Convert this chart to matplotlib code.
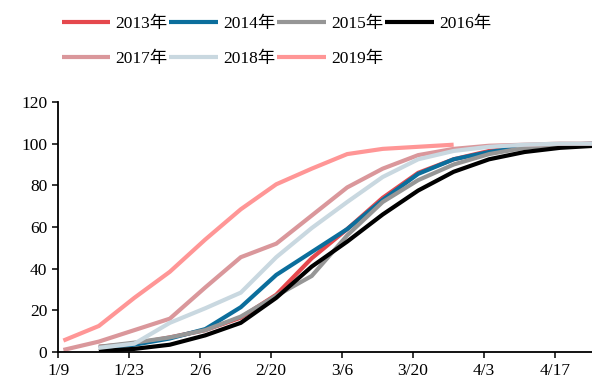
import numpy as np
import pandas as pd
import matplotlib
matplotlib.use("Agg")
import matplotlib.pyplot as plt

plt.rcParams['font.family'] = ['Liberation Serif', 'Noto Sans CJK SC']

# weekly observation dates (month/day)
dates = ['1/10', '1/17', '1/24', '1/31', '2/7', '2/14', '2/21', '2/28',
         '3/7', '3/14', '3/21', '3/28', '4/4', '4/11', '4/18', '4/25']

nan = np.nan
y2013 = [nan, 2.5, 4, 7, 10.5, 16.5, 27.5, 45, 59, 74, 86, 92.5, 96.5, 98.5, 99.5, 100]
y2014 = [nan, 2, 3.5, 6.5, 11, 21.5, 37, 48, 59, 73, 85.5, 92.5, 96, 98.5, 99.5, 100]
y2015 = [nan, 2.5, 4.5, 7, 10.5, 17, 27, 36.5, 56, 72, 82.5, 90, 95, 98, 99.5, 100]
y2016 = [nan, 0.5, 1.5, 3.5, 8, 14, 26, 41, 53, 66, 77.5, 86.5, 92.5, 96, 98, 99]
y2017 = [1, 5, 10.5, 16, 31, 45.5, 52, 65.5, 79, 88, 94.5, 97.5, 99, 99.5, 100, 100]
y2018 = [nan, 2, 4, 14, 21, 28.5, 45.5, 59.5, 72, 84, 92.5, 96.5, 98.5, 99.5, 100, 100]
y2019 = [5.5, 12.5, 26, 38.5, 54, 68.5, 80.5, 88, 95, 97.5, 98.5, 99.5,
         nan, nan, nan, nan]

tick_labels = ['1/9', '1/23', '2/6', '2/20', '3/6', '3/20', '4/3', '4/17']

def day_offset(md):
    # days counted from 1/9
    d = pd.to_datetime('2019/' + md, format='%Y/%m/%d')
    return (d - pd.Timestamp('2019-01-09')).days

x = np.array([day_offset(d) for d in dates])
xt = [day_offset(d) for d in tick_labels]

series = [
    ('2013年', y2013, '#E5484D'),
    ('2014年', y2014, '#0B6E9C'),
    ('2015年', y2015, '#969696'),
    ('2016年', y2016, '#000000'),
    ('2017年', y2017, '#DA979B'),
    ('2018年', y2018, '#C9D8E0'),
    ('2019年', y2019, '#FF9696'),
]

fig = plt.figure(figsize=(5.92, 3.82), dpi=100)
ax = fig.add_axes([0.0985, 0.0785, 0.9015, 0.6545])

handles = {}
for name, vals, col in series:
    ln, = ax.plot(x, vals, color=col, linewidth=3.0, label=name,
                  solid_capstyle='butt', solid_joinstyle='miter')
    handles[name] = ln

ax.set_xlim(0, 105.3)
ax.set_ylim(0, 120)
ax.set_yticks(range(0, 121, 20))
ax.set_xticks(xt)
ax.set_xticklabels(tick_labels)

for s in ['top', 'right']:
    ax.spines[s].set_visible(False)
for s in ['left', 'bottom']:
    ax.spines[s].set_linewidth(1.3)
ax.tick_params(axis='both', direction='out', length=4, width=1.1,
               labelsize=12.5, pad=4)

# legend laid out row by row: 4 columns, 2 rows
order = ['2013年', '2017年', '2014年', '2018年', '2015年', '2019年', '2016年']
fig.legend([handles[k] for k in order], order, ncol=4,
           loc='upper left', bbox_to_anchor=(0.078, 1.0),
           frameon=False, fontsize=12.5, handlelength=2.8,
           handletextpad=0.3, columnspacing=0.1, labelspacing=1.1)

fig.savefig('out.png', dpi=100)
